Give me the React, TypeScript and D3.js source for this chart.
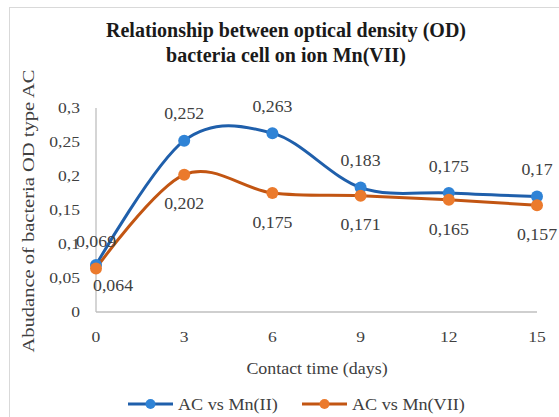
import React, { useEffect, useRef } from "react";
import * as d3 from "d3";

const days = [0, 3, 6, 9, 12, 15];
const mn2 = [0.069, 0.252, 0.263, 0.183, 0.175, 0.17];
const mn7 = [0.064, 0.202, 0.175, 0.171, 0.165, 0.157];
const yTicks = [0, 0.05, 0.1, 0.15, 0.2, 0.25, 0.3];
const seriesNames = ["AC vs Mn(II)", "AC vs Mn(VII)"];

const W = 559;
const H = 417;
const serif = "Liberation Serif";

const App = () => {
  const svgRef = useRef<SVGSVGElement>(null);

  useEffect(() => {
    const svg = d3.select(svgRef.current);
    svg.selectAll("*").remove();

    const x = d3.scaleLinear().domain([0, 15]).range([96, 537]);
    const y = d3.scaleLinear().domain([0, 0.3]).range([312, 108]);

    // the picture looks a bit stretched sideways, so texts get scaleX
    const label = (
      px: number,
      py: number,
      txt: string,
      size: number,
      sx: number,
      anchor = "middle",
      weight = "normal",
      fill = "#404040"
    ) =>
      svg
        .append("text")
        .attr("transform", `translate(${px},${py}) scale(${sx},1)`)
        .attr("text-anchor", anchor)
        .attr("dy", "0.35em")
        .attr("font-family", serif)
        .attr("font-size", size)
        .attr("font-weight", weight)
        .attr("fill", fill)
        .text(txt);

    // rahmen
    svg
      .append("rect")
      .attr("x", 9.5)
      .attr("y", 7.5)
      .attr("width", W)
      .attr("height", H)
      .attr("fill", "#fff")
      .attr("stroke", "#d9d9d9");

    // titel
    label(286, 30, "Relationship between optical density (OD)", 20, 1.0, "middle", "bold", "#1a1a1a");
    label(286, 55, "bacteria cell on ion Mn(VII)", 20, 1.0, "middle", "bold", "#1a1a1a");

    // achsen
    svg
      .append("line")
      .attr("x1", x(0))
      .attr("x2", x(15))
      .attr("y1", y(0))
      .attr("y2", y(0))
      .attr("stroke", "#bfbfbf")
      .attr("stroke-width", 1.3);
    svg
      .append("line")
      .attr("x1", x(0))
      .attr("x2", x(0))
      .attr("y1", y(0))
      .attr("y2", y(0.3))
      .attr("stroke", "#bfbfbf")
      .attr("stroke-width", 1.3);

    const fmt = (v: number) => String(v).replace(".", ",");

    yTicks.forEach((t) => label(80, y(t), fmt(t), 15, 1.17, "end"));
    days.forEach((d) => label(x(d), 337, String(d), 15, 1.17));

    label(317, 368, "Contact time (days)", 16, 1.12);

    svg
      .append("text")
      .attr("transform", "translate(28,211) rotate(-90)")
      .attr("text-anchor", "middle")
      .attr("dy", "0.35em")
      .attr("textLength", 283)
      .attr("lengthAdjust", "spacingAndGlyphs")
      .attr("font-family", serif)
      .attr("font-size", 16)
      .attr("fill", "#404040")
      .text("Abudance of bacteria OD  type AC");

    const series = [
      { values: mn2, line: "#1f5fab", marker: "#2f83d6", dy: -27 },
      { values: mn7, line: "#c25512", marker: "#eb7a2c", dy: 29 },
    ];

    const line = d3
      .line<number>()
      .x((_, i) => x(days[i]))
      .y((d) => y(d))
      .curve(d3.curveCardinal.tension(0));

    series.forEach((s) => {
      svg
        .append("path")
        .attr("d", line(s.values))
        .attr("fill", "none")
        .attr("stroke", s.line)
        .attr("stroke-width", 3);
    });

    series.forEach((s, si) => {
      svg
        .append("g")
        .selectAll("circle")
        .data(s.values)
        .join("circle")
        .attr("cx", (_, i) => x(days[i]))
        .attr("cy", (d) => y(d))
        .attr("r", 6)
        .attr("fill", s.marker);

      s.values.forEach((v, i) => {
        // first labels sit a bit differently in the original
        const ox = i === 0 && si === 1 ? 17 : 0;
        const oy = i === 0 ? (si === 1 ? 17 : -24) : s.dy;
        label(x(days[i]) + ox, y(v) + oy, fmt(v), 16.5, 1.08);
      });
    });

    // legende
    const legendX = [128, 302];
    const legendTextX = [178, 352];
    series.forEach((s, i) => {
      svg
        .append("line")
        .attr("x1", legendX[i])
        .attr("x2", legendX[i] + 45)
        .attr("y1", 404)
        .attr("y2", 404)
        .attr("stroke", s.line)
        .attr("stroke-width", 3);
      svg
        .append("circle")
        .attr("cx", legendX[i] + 22.5)
        .attr("cy", 404)
        .attr("r", 5)
        .attr("fill", s.marker);
      label(legendTextX[i], 404, seriesNames[i], 16.5, 1.1, "start");
    });
  }, []);

  return (
    <div style={{ position: "absolute", left: 0, top: 0, width: W, height: H }}>
      <svg ref={svgRef} width={W} height={H} style={{ display: "block" }}></svg>
    </div>
  );
};

export default App;
